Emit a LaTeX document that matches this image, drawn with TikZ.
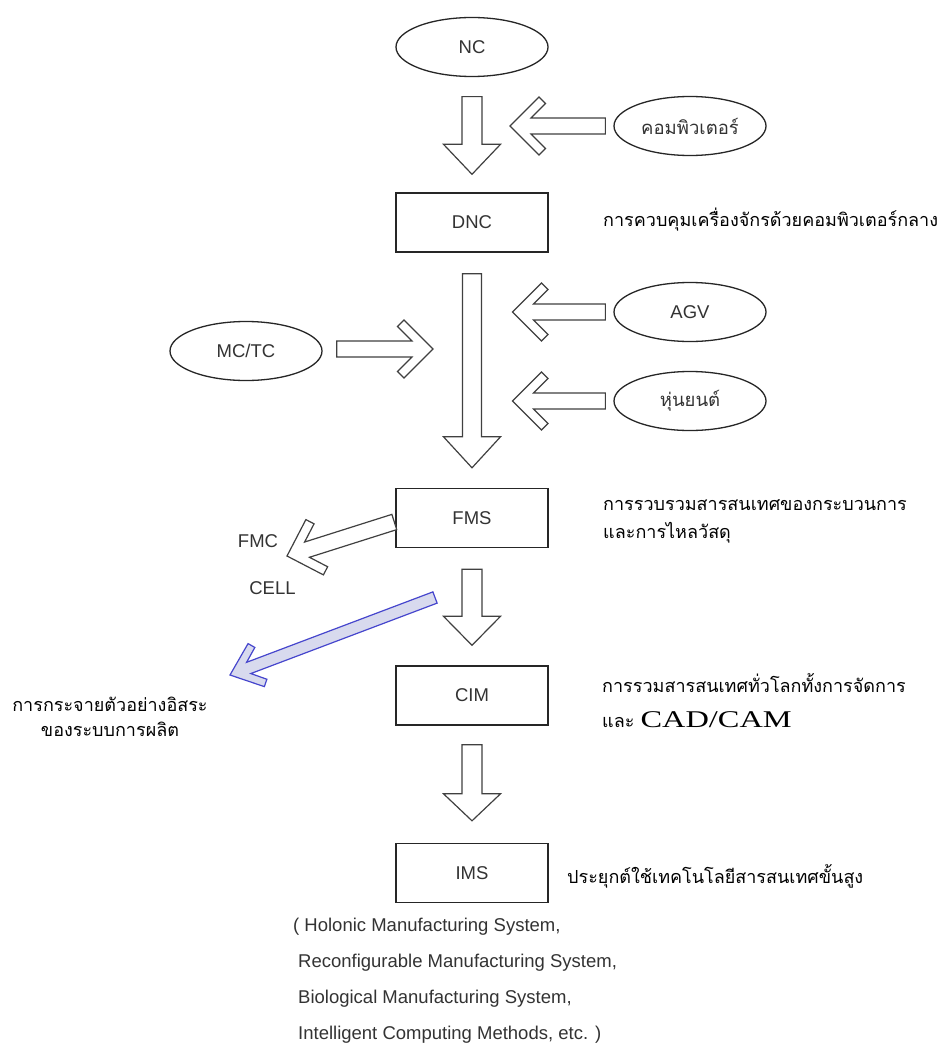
\documentclass[tikz,border=0pt]{standalone}
\usepackage{fontspec}
\setmainfont{Liberation Sans}
\newfontfamily\thaifont[Script=Thai]{Loma}
\newfontfamily\seriffont{Liberation Serif}
\usetikzlibrary{calc,shapes.geometric}
\definecolor{spreadfill}{RGB}{216,218,238}
\definecolor{spreadline}{RGB}{70,70,205}
% block arrow: [opts]{tail}{tip}{head length}{head half}{shaft half}
\newcommand{\blockarrow}[6][]{%
  \draw[blk,#1] (#3) -- ($(#3)!#4pt!(#2)!#5pt!90:(#2)$) -- ($(#3)!#4pt!(#2)!#6pt!90:(#2)$)
    -- ($(#2)!#6pt!-90:(#3)$) -- ($(#2)!#6pt!90:(#3)$)
    -- ($(#3)!#4pt!(#2)!#6pt!-90:(#2)$) -- ($(#3)!#4pt!(#2)!#5pt!-90:(#2)$) -- cycle;}
% chevron arrow: [opts]{tail}{tip}{outer}{corner}{joint}
\newcommand{\chevgen}[9][]{%
  \draw[chev,#1] (#3) -- ($(#3)!#4pt!(#2)!#5pt!90:(#2)$) -- ($(#3)!#6pt!(#2)!#7pt!90:(#2)$)
    -- ($(#3)!#8pt!(#2)!#9pt!90:(#2)$) -- ($(#2)!#9pt!-90:(#3)$) -- ($(#2)!#9pt!90:(#3)$)
    -- ($(#3)!#8pt!(#2)!#9pt!-90:(#2)$) -- ($(#3)!#6pt!(#2)!#7pt!-90:(#2)$)
    -- ($(#3)!#4pt!(#2)!#5pt!-90:(#2)$) -- cycle;}
\newcommand{\chevarrow}[3][]{\chevgen[#1]{#2}{#3}{29}{29}{35.5}{22.5}{21}{8}}

\begin{document}
\begin{tikzpicture}[x=1pt,y=-1pt,font=\fontsize{18.5}{22}\selectfont,
  el/.style={ellipse,draw=black!85,line width=1.3pt,minimum width=152pt,minimum height=59pt,inner sep=0pt,text=black!80},
  bx/.style={rectangle,draw=black!85,line width=1.4pt,minimum width=152pt,minimum height=59pt,inner sep=0pt,text=black!80},
  th/.style={font=\thaifont\fontsize{18}{28}\selectfont,align=left,inner sep=0pt},
  lbl/.style={inner sep=0pt,text=black!80},
  blk/.style={draw=black!75,line width=1.2pt,fill=white},
  chev/.style={draw=black!75,line width=1.2pt,fill=white},
  spread/.style={draw=spreadline,fill=spreadfill,line width=1.2pt}]
\useasboundingbox[fill=white](0,0) rectangle (945,1046);
\node[el](nc) at (472,47){NC};
\node[el](cmp) at (690,126){\thaifont คอมพิวเตอร์};
\node[bx](dnc) at (472,222.5){DNC};
\node[el](agv) at (690,312){AGV};
\node[el](mctc) at (246,351){MC/TC};
\node[el](robot) at (690,401){\thaifont หุ่นยนต์};
\node[bx](fms) at (472,518){FMS};
\node[bx](cim) at (472,695.5){CIM};
\node[bx](ims) at (472,873){IMS};
\node[lbl](fmc) at (258,541){FMC};
\node[lbl](cell) at (272.5,588){CELL};
\node[th,anchor=west](dnctxt) at (603,220){การควบคุมเครื่องจักรด้วยคอมพิวเตอร์กลาง};
\node[th,anchor=west](fmstxt) at (603,521){การรวบรวมสารสนเทศของกระบวนการ\\และการไหลวัสดุ};
\node[th,anchor=west](cimtxt) at (602,683){การรวมสารสนเทศทั่วโลกทั้งการจัดการ};
\node[th,anchor=west](cadtxt) at (602,720){และ\hspace{6pt}{\seriffont\scalebox{1.35}[1]{\fontsize{24}{24}\selectfont CAD/CAM}}};
\node[th,anchor=west](imstxt) at (567,876){ประยุกต์ใช้เทคโนโลยีสารสนเทศขั้นสูง};
\node[th,align=center,font=\thaifont\fontsize{18}{25}\selectfont](spreadtxt) at (110,717){การกระจายตัวอย่างอิสระ\\ของระบบการผลิต};
\node[lbl,anchor=north west,align=left,font=\fontsize{18.5}{36}\selectfont](imsnote) at (293,917.5){( Holonic Manufacturing System,\\
  \hspace*{5pt}Reconfigurable Manufacturing System,\\ \hspace*{5pt}Biological Manufacturing System,\\
  \hspace*{5pt}Intelligent Computing Methods, etc. )};
\coordinate(a1t) at ($(nc.south)+(0,19.5)$);\coordinate(a1h) at ($(dnc.north)+(0,-18)$);
\coordinate(a2t) at ($(dnc.south)+(0,21)$);\coordinate(a2h) at ($(fms.north)+(0,-20)$);
\coordinate(a3t) at ($(fms.south)+(0,21)$);\coordinate(a3h) at ($(cim.north)+(0,-20)$);
\coordinate(a4t) at ($(cim.south)+(0,19)$);\coordinate(a4h) at ($(ims.north)+(0,-22)$);
\coordinate(c1t) at ($(cmp.west)+(-8,0)$);\coordinate(c1h) at (510,126);
\coordinate(c2t) at ($(agv.west)+(-8,0)$);\coordinate(c2h) at (512.5,312);
\coordinate(c3t) at ($(robot.west)+(-8,0)$);\coordinate(c3h) at (512.5,401);
\coordinate(c4t) at ($(mctc.east)+(14,-2)$);\coordinate(c4h) at (433,349);
\coordinate(c5t) at ($(fms.west)+(-1,4)$);\coordinate(c5h) at (287,556);
\coordinate(c6t) at (435,597.5);\coordinate(c6h) at (230,675);
\blockarrow{a1t}{a1h}{30}{28.5}{10}\blockarrow{a2t}{a2h}{31}{28.5}{9.5}
\blockarrow{a3t}{a3h}{29}{28.5}{10}\blockarrow{a4t}{a4h}{27}{28.5}{10}
\chevarrow{c1t}{c1h}\chevarrow{c2t}{c2h}\chevarrow{c3t}{c3h}
\chevarrow{c4t}{c4h}\chevarrow{c5t}{c5h}
\chevgen[spread]{c6t}{c6h}{28}{23}{33}{17}{20}{6}
\end{tikzpicture}
\end{document}
